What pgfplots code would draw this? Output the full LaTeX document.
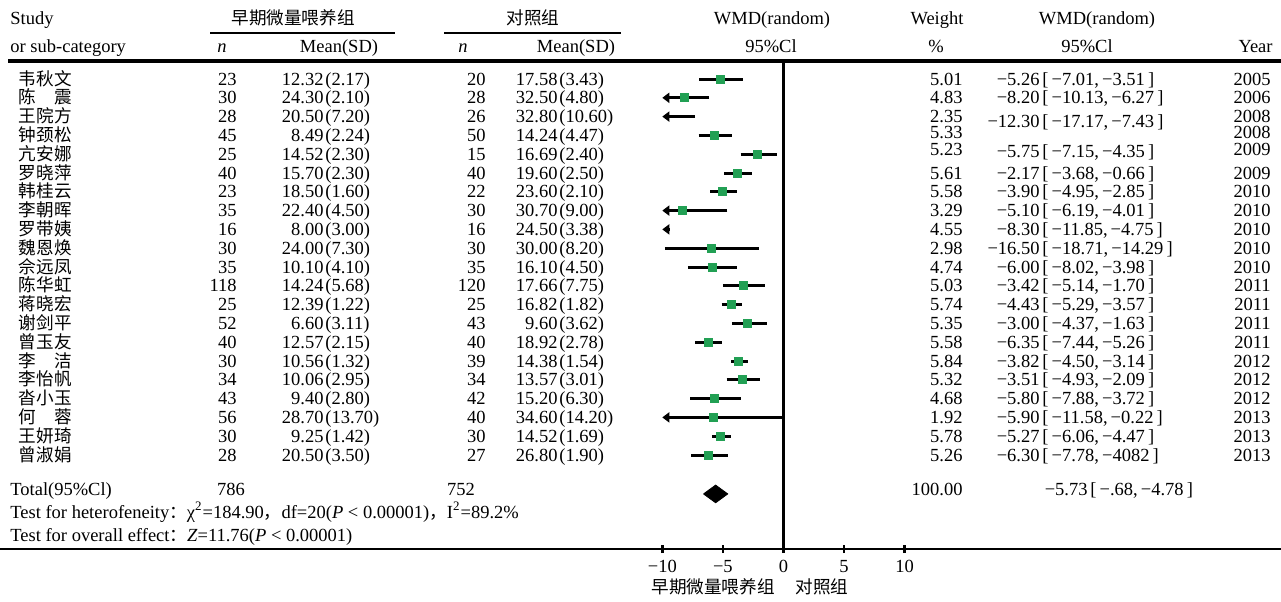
\documentclass[border=0pt]{standalone}
\usepackage{fontspec}
\setmainfont{Liberation Serif}
\newfontfamily\cjk{Noto Sans CJK SC}
\usepackage{pgfplots}
\pgfplotsset{compat=1.18}
\usetikzlibrary{arrows.meta}
\definecolor{sqgreen}{RGB}{34,160,84}
\newcommand\fs{\fontsize{9.25}{11}\selectfont}
\newcommand\cf{\fontsize{8.8}{11}\selectfont\cjk}
\pgfplotsset{ci/.style={black, line width=1.5pt, mark=none},
  cia/.style={black, line width=1.5pt, mark=none, -{Triangle[length=3.5pt,width=5pt]}}}
\begin{document}
\begin{tikzpicture}[every node/.style={inner sep=0pt, font=\fs}]
\useasboundingbox (0pt,0pt) rectangle (640.5pt,-300.5pt);
\begin{scope}[x=0.5pt,y=-0.5pt]
% header
\node[anchor=base west] at (10,24) {Study};
\node[anchor=base west] at (10,52) {or sub-category};
\node[anchor=base] at (293,24) {\cf 早期微量喂养组};
\node[anchor=base] at (533,24) {\cf 对照组};
\draw[line width=0.75pt] (210,33) -- (395,33);
\draw[line width=0.75pt] (444,33) -- (621,33);
\node[anchor=base] at (222,52) {\textit{n}};
\node[anchor=base] at (339,52) {Mean(SD)};
\node[anchor=base] at (463,52) {\textit{n}};
\node[anchor=base] at (576,52) {Mean(SD)};
\node[anchor=base] at (772,24) {WMD(random)};
\node[anchor=base] at (771,52) {95\%Cl};
\node[anchor=base] at (937,24) {Weight};
\node[anchor=base] at (936,52) {\%};
\node[anchor=base] at (1097,24) {WMD(random)};
\node[anchor=base] at (1087,52) {95\%Cl};
\node[anchor=base east] at (1273,52) {Year};
\draw[line width=1.6pt] (8,61) -- (1281,61);
% study rows
\foreach \i/\nm/\na/\ma/\sa/\nb/\mb/\sb in {
1/{韦\hfil 秋\hfil 文}/23/12.32/2.17/20/17.58/3.43,
2/{陈\hfil 震}/30/24.30/2.10/28/32.50/4.80,
3/{王\hfil 院\hfil 方}/28/20.50/7.20/26/32.80/10.60,
4/{钟\hfil 颈\hfil 松}/45/8.49/2.24/50/14.24/4.47,
5/{亢\hfil 安\hfil 娜}/25/14.52/2.30/15/16.69/2.40,
6/{罗\hfil 晓\hfil 萍}/40/15.70/2.30/40/19.60/2.50,
7/{韩\hfil 桂\hfil 云}/23/18.50/1.60/22/23.60/2.10,
8/{李\hfil 朝\hfil 晖}/35/22.40/4.50/30/30.70/9.00,
9/{罗\hfil 带\hfil 姨}/16/8.00/3.00/16/24.50/3.38,
10/{魏\hfil 恩\hfil 焕}/30/24.00/7.30/30/30.00/8.20,
11/{佘\hfil 远\hfil 凤}/35/10.10/4.10/35/16.10/4.50,
12/{陈\hfil 华\hfil 虹}/118/14.24/5.68/120/17.66/7.75,
13/{蒋\hfil 晓\hfil 宏}/25/12.39/1.22/25/16.82/1.82,
14/{谢\hfil 剑\hfil 平}/52/6.60/3.11/43/9.60/3.62,
15/{曾\hfil 玉\hfil 友}/40/12.57/2.15/40/18.92/2.78,
16/{李\hfil 洁}/30/10.56/1.32/39/14.38/1.54,
17/{李\hfil 怡\hfil 帆}/34/10.06/2.95/34/13.57/3.01,
18/{沓\hfil 小\hfil 玉}/43/9.40/2.80/42/15.20/6.30,
19/{何\hfil 蓉}/56/28.70/13.70/40/34.60/14.20,
20/{王\hfil 妍\hfil 琦}/30/9.25/1.42/30/14.52/1.69,
21/{曾\hfil 淑\hfil 娟}/28/20.50/3.50/27/26.80/1.90}{
  \pgfmathsetmacro\yb{85+(\i-1)*18.8}
  \node[anchor=base west] at (18,\yb) {\hbox to 27pt{\cf \nm}};
  \node[anchor=base east] at (237,\yb) {\na};
  \node[anchor=base east] at (324,\yb) {\ma};
  \node[anchor=base west] at (325,\yb) {(\sa)};
  \node[anchor=base east] at (486,\yb) {\nb};
  \node[anchor=base east] at (558,\yb) {\mb};
  \node[anchor=base west] at (559,\yb) {(\sb)};
}
% weights and years
\foreach \yb/\w/\yr in {85/5.01/2005, 103.8/4.83/2006, 122.6/2.35/2008, 138.5/5.33/2008,
  155/5.23/2009, 179/5.61/2009, 197.8/5.58/2010, 216.6/3.29/2010, 235.4/4.55/2010,
  254.2/2.98/2010, 273/4.74/2010, 291.8/5.03/2011, 310.6/5.74/2011, 329.4/5.35/2011,
  348.2/5.58/2011, 367/5.84/2012, 385.8/5.32/2012, 404.6/4.68/2012, 423.4/1.92/2013,
  442.2/5.78/2013, 461/5.26/2013}{
  \node[anchor=base east] at (963,\yb) {\w};
  \node[anchor=base east] at (1271,\yb) {\yr};
}
% WMD text column
\foreach \yb/\m/\lo/\hi in {85/−5.26/−7.01/−3.51, 103.8/−8.20/−10.13/−6.27,
  127.5/−12.30/−17.17/−7.43, 157/−5.75/−7.15/−4.35, 179/−2.17/−3.68/−0.66,
  197.8/−3.90/−4.95/−2.85, 216.6/−5.10/−6.19/−4.01, 235.4/−8.30/−11.85/−4.75,
  254.2/−16.50/−18.71/−14.29, 273/−6.00/−8.02/−3.98, 291.8/−3.42/−5.14/−1.70,
  310.6/−4.43/−5.29/−3.57, 329.4/−3.00/−4.37/−1.63, 348.2/−6.35/−7.44/−5.26,
  367/−3.82/−4.50/−3.14, 385.8/−3.51/−4.93/−2.09, 404.6/−5.80/−7.88/−3.72,
  423.4/−5.90/−11.58/−0.22, 442.2/−5.27/−6.06/−4.47, 461/−6.30/−7.78/−4082}{
  \node[anchor=base east] at (1040,\yb) {\m};
  \node[anchor=base west] at (1042,\yb) {[\,\lo,\,\hi\,]};
}
% totals
\node[anchor=base west] at (10,495) {Total(95\%Cl)};
\node[anchor=base] at (231,495) {786};
\node[anchor=base] at (461,495) {752};
\node[anchor=base east] at (963,495) {100.00};
\node[anchor=base east] at (1088,495) {−5.73};
\node[anchor=base west] at (1090,495) {[\,−.68,\,−4.78\,]};
\node[anchor=base west] at (10,518) {Test for heterofeneity{\cf ：}χ\textsuperscript{2}=184.90{\cf ，}df=20(\textit{P} < 0.00001){\cf ，}I\textsuperscript{2}=89.2\%};
\node[anchor=base west] at (10,541) {Test for overall effect{\cf ：}\textit{Z}=11.76(\textit{P} < 0.00001)};
% axis label
\node[anchor=base] at (713,593) {\cf 早期微量喂养组};
\node[anchor=base] at (822,593) {\cf 对照组};
\end{scope}
\begin{axis}[at={(0pt,-274.5pt)}, anchor=south west, scale only axis,
  width=640.5pt, height=244pt,
  xmin=-64.645, xmax=41.048, ymin=-26, ymax=-0.0426,
  axis x line*=bottom, axis y line=none,
  x axis line style={line width=1.3pt},
  xtick={-10,-5,0,5,10}, xticklabels={−10,−5,0,5,10},
  tick align=center, major tick length=4pt,
  tick style={line width=1.3pt, black},
  xticklabel style={font=\fs, anchor=base, yshift=-9.5pt},
  ytick=\empty, clip=false]
\draw[line width=1.3pt] (axis cs:0,-0.0426) -- (axis cs:0,-26);
\addplot[only marks, mark=square*, mark size=2pt, color=sqgreen] coordinates {
(-5.24,-1) (-8.2,-2) (-5.74,-4) (-2.13,-5) (-3.84,-6) (-5.02,-7) (-8.32,-8)
(-5.92,-10) (-5.9,-11) (-3.3,-12) (-4.3,-13) (-2.95,-14) (-6.2,-15) (-3.7,-16)
(-3.4,-17) (-5.7,-18) (-5.75,-19) (-5.2,-20) (-6.2,-21)};
\addplot[ci] coordinates {(-6.95,-1) (-3.37,-1)};
\addplot[cia] coordinates {(-6.13,-2) (-10,-2)};
\addplot[cia] coordinates {(-7.3,-3) (-10,-3)};
\addplot[ci] coordinates {(-7.0,-4) (-4.23,-4)};
\addplot[ci] coordinates {(-3.53,-5) (-0.5,-5)};
\addplot[ci] coordinates {(-4.89,-6) (-2.62,-6)};
\addplot[ci] coordinates {(-6.06,-7) (-3.81,-7)};
\addplot[cia] coordinates {(-4.64,-8) (-10,-8)};
\addplot[cia] coordinates {(-9.45,-9) (-10,-9)};
\addplot[ci] coordinates {(-9.78,-10) (-2.0,-10)};
\addplot[ci] coordinates {(-7.9,-11) (-3.8,-11)};
\addplot[ci] coordinates {(-5.0,-12) (-1.55,-12)};
\addplot[ci] coordinates {(-5.1,-13) (-3.4,-13)};
\addplot[ci] coordinates {(-4.25,-14) (-1.4,-14)};
\addplot[ci] coordinates {(-7.27,-15) (-5.07,-15)};
\addplot[ci] coordinates {(-4.3,-16) (-2.9,-16)};
\addplot[ci] coordinates {(-4.7,-17) (-1.95,-17)};
\addplot[ci] coordinates {(-7.7,-18) (-3.5,-18)};
\addplot[cia] coordinates {(0.0,-19) (-10,-19)};
\addplot[ci] coordinates {(-5.9,-20) (-4.3,-20)};
\addplot[ci] coordinates {(-7.6,-21) (-4.6,-21)};
\addplot[fill=black, draw=black] coordinates {(-6.6,-23.07) (-5.6,-22.6) (-4.6,-23.07) (-5.6,-23.54) (-6.6,-23.07)};
\end{axis}
\end{tikzpicture}
\end{document}
